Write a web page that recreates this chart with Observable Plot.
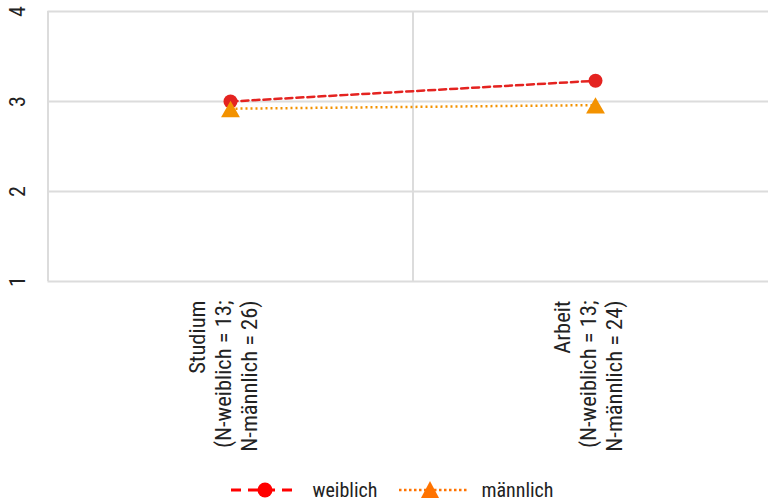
<!DOCTYPE html>
<html>
<head>
<meta charset="utf-8">
<script src="https://cdn.jsdelivr.net/npm/d3@7"></script>
<script src="https://cdn.jsdelivr.net/npm/@observablehq/plot@0.6"></script>
<style>
  html, body { margin: 0; padding: 0; background: #fff; overflow: hidden; width: 768px; height: 502px; }
  body { font-family: "Liberation Sans Narrow", "Roboto Condensed", "Arial Narrow", sans-serif; color: #222; }
  #legend { height: 40px; display: flex; align-items: center; justify-content: center; font-size: 20px; padding-left: 16px; }
  #legend .item { display: flex; align-items: center; }
  #legend svg { display: block; }
</style>
</head>
<body>
<div id="chart"></div>
<div id="legend"></div>
<script>
// ---- data ----
const categories = ["Studium", "Arbeit"];
const nWeiblich = [13, 13];
const nMaennlich = [26, 24];
const weiblich = [3.00, 3.23];
const maennlich = [2.92, 2.96];
const yTicks = [1, 2, 3, 4];
const seriesNames = ["weiblich", "männlich"];

const FONT = '"Liberation Sans Narrow", "Roboto Condensed", "Arial Narrow", sans-serif';
const RED = "#e42320";
const ORANGE = "#f39200";

const rows = [];
categories.forEach((c, i) => {
  rows.push({series: seriesNames[0], x: i + 0.5, value: weiblich[i]});
  rows.push({series: seriesNames[1], x: i + 0.5, value: maennlich[i]});
});
const wRows = rows.filter(d => d.series === seriesNames[0]);
const mRows = rows.filter(d => d.series === seriesNames[1]);

const labels = categories.map((c, i) => ({
  x: i + 0.5,
  text: `${c}\n(N-weiblich = ${nWeiblich[i]};\nN-männlich = ${nMaennlich[i]})`
}));

const chart = Plot.plot({
  width: 768,
  height: 470,
  marginLeft: 47.5,
  marginRight: -9.5,
  marginTop: 11,
  marginBottom: 189,
  style: {fontFamily: FONT, fontSize: "22px", color: "#222", background: "#fff"},
  x: {domain: [0, categories.length], axis: null},
  y: {domain: [1, 4], axis: null},
  marks: [
    Plot.ruleY(yTicks, {stroke: "#dcdcdc", strokeWidth: 2}),
    Plot.ruleX(d3.range(categories.length), {x: d => d, stroke: "#dcdcdc", strokeWidth: 2}),
    Plot.line(wRows, {x: "x", y: "value", stroke: RED, strokeWidth: 2.5, strokeDasharray: "7,4"}),
    Plot.line(mRows, {x: "x", y: "value", stroke: ORANGE, strokeWidth: 2.5, strokeDasharray: "2,3", strokeLinecap: "butt"}),
    Plot.dot(wRows, {x: "x", y: "value", r: 7, fill: RED, stroke: "none"}),
    Plot.dot(mRows, {x: "x", y: "value", r: 7, symbol: "triangle", fill: ORANGE, stroke: "none", dy: 3}),
    Plot.text(yTicks, {y: d => d, text: d => String(d), frameAnchor: "left", dx: -30, rotate: -90,
      textAnchor: "middle", lineAnchor: "middle", fontSize: 22, fill: "#222"}),
    Plot.text(labels, {x: "x", text: "text", frameAnchor: "bottom", dy: 19, dx: -8, rotate: -90,
      textAnchor: "end", lineAnchor: "middle", lineHeight: 1.15, fontSize: 22.5, fill: "#222"})
  ]
});
document.getElementById("chart").appendChild(chart);

// ---- legend ----
const legend = document.getElementById("legend");
function legendItem(name, color, dash, width, marker) {
  const item = document.createElement("div");
  item.className = "item";
  const ns = "http://www.w3.org/2000/svg";
  const svg = document.createElementNS(ns, "svg");
  svg.setAttribute("width", 68);
  svg.setAttribute("height", 24);
  const line = document.createElementNS(ns, "line");
  line.setAttribute("x1", 0); line.setAttribute("x2", 68);
  line.setAttribute("y1", 12); line.setAttribute("y2", 12);
  line.setAttribute("stroke", color);
  line.setAttribute("stroke-width", width);
  line.setAttribute("stroke-dasharray", dash);
  svg.appendChild(line);
  if (marker === "circle") {
    const c = document.createElementNS(ns, "circle");
    c.setAttribute("cx", 34); c.setAttribute("cy", 12); c.setAttribute("r", 7.5);
    c.setAttribute("fill", color);
    svg.appendChild(c);
  } else {
    const p = document.createElementNS(ns, "path");
    p.setAttribute("d", "M31,3L40,20L22,20Z");
    p.setAttribute("fill", color);
    svg.appendChild(p);
  }
  item.appendChild(svg);
  const t = document.createElement("span");
  t.textContent = name;
  t.style.marginLeft = "14px";
  item.appendChild(t);
  return item;
}
const i1 = legendItem(seriesNames[0], "#ff0000", "10,7", 3, "circle");
const i2 = legendItem(seriesNames[1], "#ff7300", "2.5,2.5", 2.5, "triangle");
i2.style.marginLeft = "22px";
legend.appendChild(i1);
legend.appendChild(i2);
</script>
</body>
</html>
